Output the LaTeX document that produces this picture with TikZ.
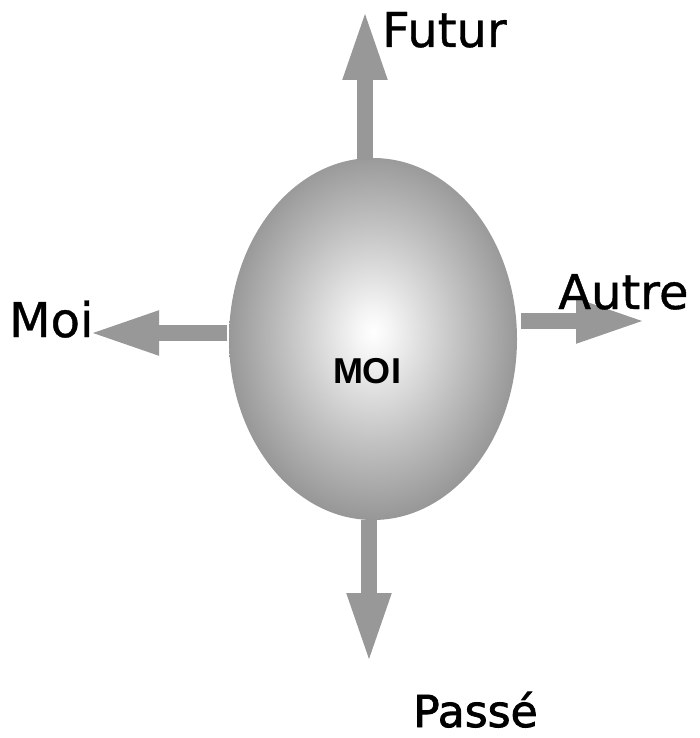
\documentclass[tikz,border=0pt]{standalone}
\usepackage{fontspec}
\setmainfont{DejaVu Sans}[FakeBold=0.8]
\newfontfamily\moifont{Liberation Sans}
\newfontfamily\boldish{DejaVu Sans}[FakeBold=1.8]
\usetikzlibrary{arrows.meta,shapes.geometric}
\definecolor{arrgray}{RGB}{152,152,152}
\definecolor{edgegray}{RGB}{136,136,136}
\pgfdeclareradialshading{moishade}{\pgfpoint{0bp}{1bp}}{%
  color(0bp)=(white); color(3bp)=(white!96!black); color(15bp)=(white!76!black);
  color(29bp)=(edgegray); color(50bp)=(edgegray)}
\tikzset{
  arr/.style={draw=arrgray, line width=16pt, -{Triangle[length=71pt,width=40pt]}},
  lbl/.style={anchor=base west, inner sep=0pt, text depth=0pt, font=\fontsize{48}{56}\selectfont},
}
\begin{document}
\begin{tikzpicture}[x=1pt,y=-1pt]
\useasboundingbox (0,0) rectangle (699,738);
\node[ellipse, minimum width=288pt, minimum height=362pt, inner sep=0pt,
      shading=moishade] (moi) at (373,339) {};
\node[inner sep=0pt, anchor=base, font=\moifont\bfseries\fontsize{36}{40}\selectfont] (moitxt) at (367,383) {MOI};
\coordinate (futS) at (365,160);
\coordinate (futT) at (365,9);
\coordinate (moiS) at (227,333);
\coordinate (moiT) at (88,333);
\coordinate (autS) at (521,321);
\coordinate (autT) at (647,321);
\coordinate (pasS) at (369,520);
\coordinate (pasT) at (369,664);
\draw[arr] (futS) -- (futT);
\draw[arr] (moiS) -- (moiT);
\draw[arr] (autS) -- (autT);
\draw[arr] (pasS) -- (pasT);
\node[lbl] (futur) at (382,47) {Futur};
\node[lbl] (moil) at (9,337) {Moi};
\node[lbl] (autre) at (558,309) {Autre};
\node[lbl, font=\boldish\fontsize{44}{52}\selectfont] (passe) at (413,727) {Passé};
\end{tikzpicture}
\end{document}
